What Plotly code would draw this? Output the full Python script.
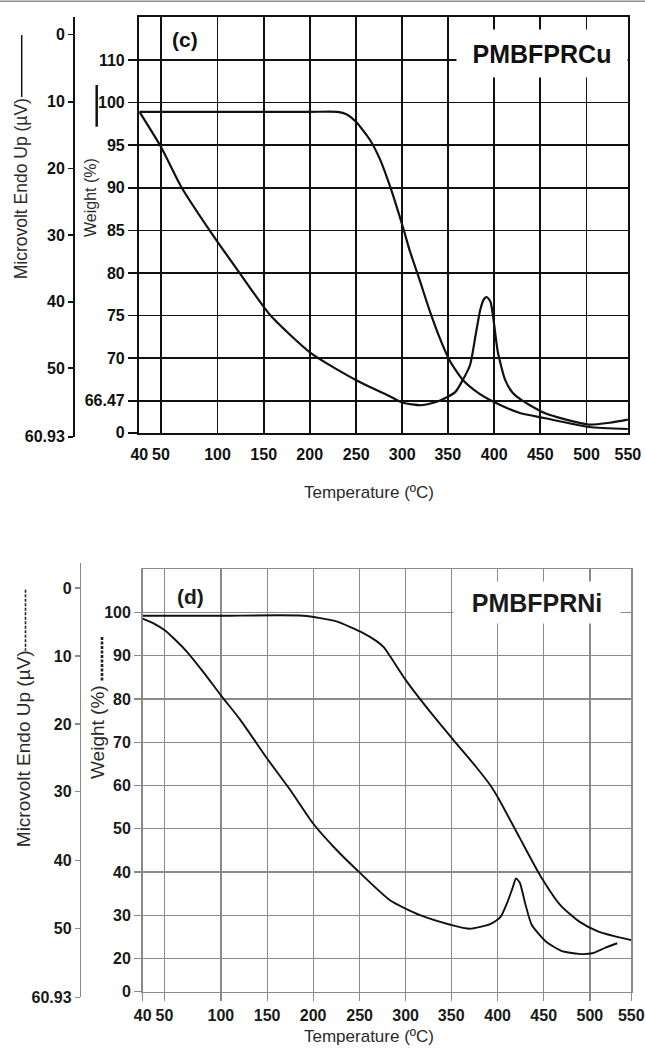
import numpy as np
import plotly.graph_objects as go

W, H = 645, 1050

# ---------------- tick labels ----------------
TEMP_TICKS = [40, 50, 100, 150, 200, 250, 300, 350, 400, 450, 500, 550]
TEMP_TEXT = ["40", "50", "100", "150", "200", "250", "300", "350", "400", "450", "500", "550"]

C_WEIGHT_TICKS = [0, 66.47, 70, 75, 80, 85, 90, 95, 100, 110]
C_WEIGHT_TEXT = ["0", "66.47", "70", "75", "80", "85", "90", "95", "100", "110"]

D_WEIGHT_TICKS = [0, 20, 30, 40, 50, 60, 70, 80, 90, 100]
D_WEIGHT_TEXT = ["0", "20", "30", "40", "50", "60", "70", "80", "90", "100"]

MV_TICKS = [0, 10, 20, 30, 40, 50, 60.93]
MV_TEXT = ["0", "10", "20", "30", "40", "50", "60.93"]

# ---------------- data ----------------
# (c) PMBFPRCu
C_TGA_T = [40, 100, 200, 230, 240, 250, 265, 276, 287, 301, 308, 319, 330, 341, 352, 366, 383, 402, 428, 454, 503, 550]
C_TGA_W = [98.9, 98.9, 98.9, 98.9, 98.6, 97.7, 95.6, 93.3, 90.1, 85.3, 82.7, 79.2, 75.6, 72.4, 69.8, 68.2, 67.1, 61.7, 40.9, 30.5, 11.8, 7.7]

C_DSC_T = [40, 50, 68, 93, 124, 157, 202, 250, 287, 301, 321, 341, 358, 366, 374, 380, 385, 389, 392, 396, 400, 404, 412, 420, 431, 454, 478, 503, 528, 550]
C_DSC_MV = [11.5, 16.8, 22.8, 29.3, 35.7, 42.0, 47.8, 51.9, 54.5, 55.5, 55.9, 55.2, 53.8, 51.9, 49.5, 45.0, 41.2, 39.6, 39.3, 40.0, 43.5, 47.6, 51.9, 53.9, 55.2, 57.1, 58.2, 59.0, 58.7, 58.2]

# (d) PMBFPRNi
D_TGA_T = [40, 100, 189, 225, 254, 268, 276, 283, 300, 327, 354, 376, 392, 402, 424, 446, 468, 489, 511, 550]
D_TGA_W = [99.2, 99.2, 99.2, 97.9, 95.2, 93.4, 92.0, 89.9, 84.4, 77.0, 70.1, 64.5, 60.1, 56.6, 47.9, 39.3, 32.4, 28.5, 26.2, 24.3]

D_DSC_T = [40, 45, 50, 60, 70, 85, 100, 121, 150, 175, 200, 225, 249, 283, 316, 349, 370, 392, 403, 410, 416, 420, 424, 430, 437, 453, 469, 488, 503, 519, 533]
D_DSC_MV = [4.5, 5.2, 6.2, 7.7, 9.4, 12.5, 15.8, 19.4, 25.1, 29.7, 34.6, 38.4, 41.6, 45.8, 48.0, 49.4, 50.0, 49.3, 48.3, 46.3, 44.1, 42.6, 43.2, 46.3, 49.4, 52.1, 53.5, 54.0, 53.9, 53.0, 52.3]

# ---------------- axis scales (tick positions in axis units) ----------------
TEMP_POS = [0, 21.7, 78.2, 124.4, 170.4, 216.9, 262.9, 308.5, 354.9, 401, 447.2, 488.6]
C_WEIGHT_POS = [0, 32, 74.6, 117.2, 159.8, 202.4, 245, 287.6, 330.2, 372.8]
C_MV_POS = [402.4, 335.0, 268.4, 201.7, 135.0, 68.4, 0]
D_WEIGHT_POS = [0, 33, 76.3, 119.6, 162.9, 206.2, 249.5, 292.8, 336.1, 379.4]
D_MV_POS = [409.4, 341.5, 273.5, 205.6, 136.6, 68.6, 0]


def scale(vals, ticks, pos):
    return np.interp(np.asarray(vals, float), ticks, pos)


def px(x):
    return x / W


def py(y):
    return 1 - y / H


FONT = "Liberation Sans, Arial, Helvetica, sans-serif"
TOPC = "#111111"
GRAYC = "#8a8a8a"
TF_TOP = dict(family=FONT, size=16, color=TOPC, weight="bold")
TF_BOT = dict(family=FONT, size=16, color="#1a1a1a", weight="bold")

fig = go.Figure()

line_top = dict(color="#111111", width=2.2, shape="spline", smoothing=0.6)
line_bot = dict(color="#111111", width=1.9, shape="spline", smoothing=0.6)

fig.add_trace(go.Scatter(x=scale(C_TGA_T, TEMP_TICKS, TEMP_POS),
                         y=scale(C_TGA_W, C_WEIGHT_TICKS, C_WEIGHT_POS),
                         mode="lines", line=line_top, xaxis="x", yaxis="y",
                         hoverinfo="skip", showlegend=False))
fig.add_trace(go.Scatter(x=scale(C_DSC_T, TEMP_TICKS, TEMP_POS),
                         y=scale(C_DSC_MV, MV_TICKS, C_MV_POS),
                         mode="lines", line=line_top, xaxis="x2", yaxis="y2",
                         hoverinfo="skip", showlegend=False))
fig.add_trace(go.Scatter(x=scale(D_TGA_T, TEMP_TICKS, TEMP_POS),
                         y=scale(D_TGA_W, D_WEIGHT_TICKS, D_WEIGHT_POS),
                         mode="lines", line=line_bot, xaxis="x3", yaxis="y3",
                         hoverinfo="skip", showlegend=False))
fig.add_trace(go.Scatter(x=scale(D_DSC_T, TEMP_TICKS, TEMP_POS),
                         y=scale(D_DSC_MV, MV_TICKS, D_MV_POS),
                         mode="lines", line=line_bot, xaxis="x4", yaxis="y4",
                         hoverinfo="skip", showlegend=False))

# panel geometry (pixels)
C_L, C_R, C_T, C_B = 139.3, 627.9, 17.0, 432.7
C_MV_T, C_MV_B, C_MV_X = 16.7, 436.7, 73.0
D_L, D_R, D_T, D_B = 142.7, 631.3, 569.3, 991.7
D_MV_T, D_MV_B, D_MV_X = 562.5, 997.4, 79.8

common_off = dict(visible=False, showgrid=False, zeroline=False)

fig.update_layout(
    width=W, height=H, autosize=False,
    margin=dict(l=0, r=0, t=0, b=0, pad=0),
    paper_bgcolor="white", plot_bgcolor="rgba(0,0,0,0)",
    showlegend=False,
    xaxis=dict(domain=[px(C_L), px(C_R)], range=[0, 488.6], anchor="y",
               tickmode="array", tickvals=TEMP_POS, ticktext=TEMP_TEXT,
               showgrid=True, gridcolor=TOPC, gridwidth=1.6,
               showline=True, linecolor=TOPC, linewidth=2.4, mirror=True,
               ticks="", zeroline=False, tickfont=TF_TOP, ticklabelstandoff=6,
               automargin=False),
    yaxis=dict(domain=[py(C_B), py(C_T)], range=[0, C_B - C_T], anchor="x",
               tickmode="array",
               tickvals=scale(C_WEIGHT_TICKS, C_WEIGHT_TICKS, C_WEIGHT_POS),
               ticktext=C_WEIGHT_TEXT,
               showgrid=True, gridcolor=TOPC, gridwidth=1.6,
               showline=True, linecolor=TOPC, linewidth=2.4, mirror=True,
               ticks="outside", ticklen=9, tickwidth=1.6, tickcolor=TOPC,
               zeroline=False, tickfont=TF_TOP, ticklabelstandoff=0,
               automargin=False),
    xaxis2=dict(domain=[px(C_L), px(C_R)], range=[0, 488.6], anchor="y2", **common_off),
    yaxis2=dict(domain=[py(C_MV_B), py(C_MV_T)], range=[0, C_MV_B - C_MV_T],
                anchor="free", position=px(C_MV_X), side="left",
                tickmode="array", tickvals=scale(MV_TICKS, MV_TICKS, C_MV_POS),
                ticktext=MV_TEXT, showgrid=False, zeroline=False,
                showline=True, linecolor=TOPC, linewidth=1.8,
                ticks="outside", ticklen=5, tickwidth=1.6, tickcolor=TOPC,
                tickfont=TF_TOP, ticklabelstandoff=0, automargin=False),
    xaxis3=dict(domain=[px(D_L), px(D_R)], range=[0, 488.6], anchor="y3",
                tickmode="array", tickvals=TEMP_POS, ticktext=TEMP_TEXT,
                showgrid=True, gridcolor=GRAYC, gridwidth=1.2,
                showline=True, linecolor=GRAYC, linewidth=1.6, mirror=True,
                ticks="outside", ticklen=8, tickwidth=1.2, tickcolor=GRAYC,
                zeroline=False, tickfont=TF_BOT, ticklabelstandoff=0,
                automargin=False),
    yaxis3=dict(domain=[py(D_B), py(D_T)], range=[0, D_B - D_T], anchor="x3",
                tickmode="array",
                tickvals=scale(D_WEIGHT_TICKS, D_WEIGHT_TICKS, D_WEIGHT_POS),
                ticktext=D_WEIGHT_TEXT,
                showgrid=True, gridcolor=GRAYC, gridwidth=1.2,
                showline=True, linecolor=GRAYC, linewidth=1.6, mirror=True,
                ticks="outside", ticklen=7, tickwidth=1.2, tickcolor=GRAYC,
                zeroline=False, tickfont=TF_BOT, ticklabelstandoff=0,
                automargin=False),
    xaxis4=dict(domain=[px(D_L), px(D_R)], range=[0, 488.6], anchor="y4", **common_off),
    yaxis4=dict(domain=[py(D_MV_B), py(D_MV_T)], range=[0, D_MV_B - D_MV_T],
                anchor="free", position=px(D_MV_X), side="left",
                tickmode="array", tickvals=scale(MV_TICKS, MV_TICKS, D_MV_POS),
                ticktext=MV_TEXT, showgrid=False, zeroline=False,
                showline=True, linecolor=GRAYC, linewidth=1.4,
                ticks="outside", ticklen=5, tickwidth=1.2, tickcolor=GRAYC,
                tickfont=TF_BOT, ticklabelstandoff=0, automargin=False),
)

TITLE_C = "#2a2a2a"


def ann(text, x, y, size, angle=0, bold=False, color=TITLE_C, **kw):
    d = dict(text=text, x=px(x), y=py(y), xref="paper", yref="paper",
             xanchor="center", yanchor="middle", showarrow=False,
             textangle=angle,
             font=dict(family=FONT, size=size, color=color,
                       weight="bold" if bold else "normal"))
    d.update(kw)
    fig.add_annotation(**d)


# axis titles
ann("Microvolt Endo Up (µV)", 20.8, 188.5, 17.5, angle=-90)
ann("Weight (%)", 90, 198, 16, angle=-90)
ann("Temperature (ºC)", 369, 492, 17)
ann("Microvolt Endo Up (µV)", 23.8, 748.4, 19, angle=-90)
ann("Weight (%)", 97, 732, 19, angle=-90)
ann("Temperature (ºC)", 369, 1036, 17)

# panel labels
ann("(c)", 185, 39, 21, bold=True, color="#111")
ann("(d)", 190, 596, 21, bold=True, color="#1a1a1a")
ann("PMBFPRCu", 542, 53.5, 25, bold=True, color="#111",
    bgcolor="white", width=156, height=33, borderpad=7)
ann("PMBFPRNi", 537.4, 602.4, 25, bold=True, color="#1a1a1a",
    bgcolor="white", width=154, height=29, borderpad=6)


# legend-style indicator lines next to axis titles
def vline(x, y0, y1, width, dash="solid", color="#111"):
    fig.add_shape(type="line", xref="paper", yref="paper",
                  x0=px(x), x1=px(x), y0=py(y0), y1=py(y1),
                  line=dict(color=color, width=width, dash=dash))


vline(21.7, 35, 97, 1.5)
vline(96.7, 85, 126.7, 2.5)
vline(25.5, 589.7, 650.8, 1.6, dash="3px,1.5px", color="#222")
vline(102, 637, 681.4, 2.6, dash="3px,1.5px", color="#222")

# thin rule at the very top of the page
fig.add_shape(type="line", xref="paper", yref="paper", x0=0, x1=1,
              y0=py(1.3), y1=py(1.3), line=dict(color="#8c8c8c", width=1.5))

fig.write_html(
    "out.html",
    config={"displayModeBar": False, "staticPlot": True},
    post_script="document.body.style.margin='0';document.body.style.overflow='hidden';",
)
